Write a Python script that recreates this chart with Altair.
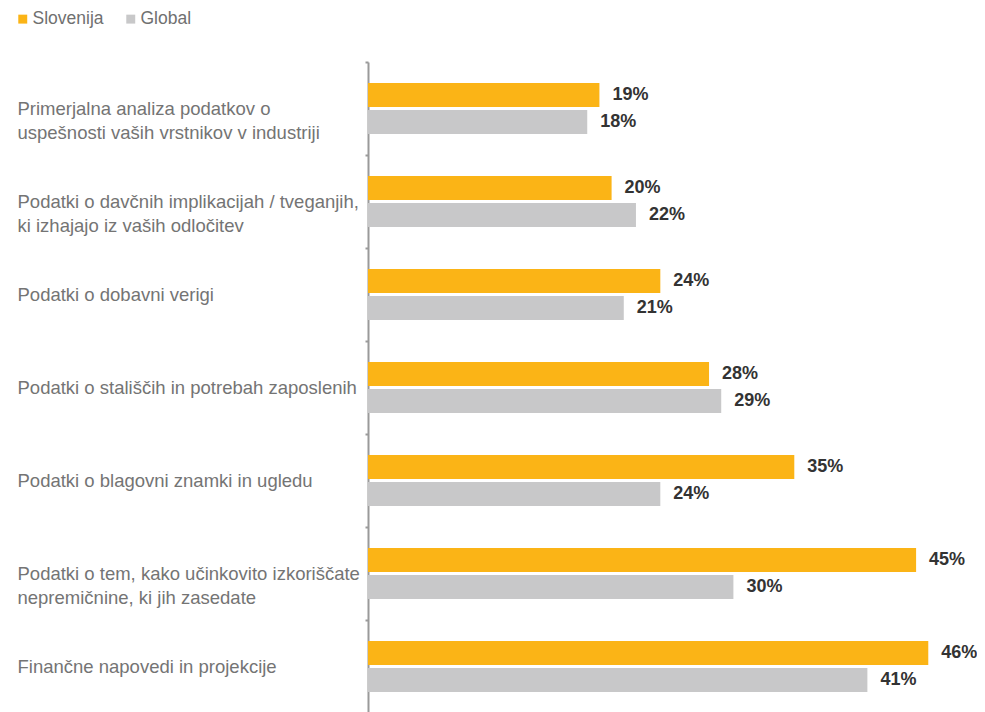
import altair as alt
import pandas as pd

categories = [
    "Primerjalna analiza podatkov o|uspešnosti vaših vrstnikov v industriji",
    "Podatki o davčnih implikacijah / tveganjih,|ki izhajajo iz vaših odločitev",
    "Podatki o dobavni verigi",
    "Podatki o stališčih in potrebah zaposlenih",
    "Podatki o blagovni znamki in ugledu",
    "Podatki o tem, kako učinkovito izkoriščate|nepremičnine, ki jih zasedate",
    "Finančne napovedi in projekcije",
]
series_names = ["Slovenija", "Global"]
slovenija = [19, 20, 24, 28, 35, 45, 46]
global_vals = [18, 22, 21, 29, 24, 30, 41]
colors = ["#FBB416", "#C8C8C9"]

rows = []
for c, s, g in zip(categories, slovenija, global_vals):
    rows.append({"cat": c, "series": "Slovenija", "value": s})
    rows.append({"cat": c, "series": "Global", "value": g})
df = pd.DataFrame(rows)

FONT = "Liberation Sans"

y_enc = alt.Y(
    "cat:N",
    sort=categories,
    scale=alt.Scale(paddingInner=0, paddingOuter=0),
    axis=alt.Axis(
        title=None,
        labelExpr="split(datum.label, '|')",
        labelAlign="left",
        labelBaseline="middle",
        labelPadding=348,
        labelFontSize=18.5,
        labelFont=FONT,
        labelColor="#747474",
        labelLineHeight=24,
        labelLimit=400,
        tickBand="extent",
        tickSize=3,
        tickColor="#9a9a9a",
        tickWidth=2,
        domainColor="#9a9a9a",
        domainWidth=2,
        grid=False,
    ),
)
yoff = alt.YOffset(
    "series:N",
    sort=series_names,
    scale=alt.Scale(domain=series_names, paddingInner=0.111, paddingOuter=0.778),
)

base = alt.Chart(df).encode(y=y_enc, yOffset=yoff)

xscale = alt.Scale(domain=[0, 50], nice=False)

bars = base.mark_bar().encode(
    x=alt.X("value:Q", scale=xscale, axis=None),
    color=alt.Color(
        "series:N",
        scale=alt.Scale(domain=series_names, range=colors),
        legend=alt.Legend(
            orient="none",
            legendX=-354,
            legendY=-52,
            direction="horizontal",
            title=None,
            symbolType="square",
            symbolSize=80,
            symbolStrokeWidth=0,
            labelFontSize=17.5,
            labelFont=FONT,
            labelColor="#707070",
            labelOffset=1,
            columnPadding=18,
        ),
    ),
)

text = base.mark_text(
    align="left", baseline="middle", dx=13, fontSize=18, fontWeight="bold",
    font=FONT, color="#333333"
).transform_calculate(
    label="datum.value + '%'"
).encode(
    x=alt.X("value:Q", scale=xscale, axis=None),
    text="label:N",
)

chart = alt.layer(bars, text).properties(
    width=609,
    height=651,
    padding={"left": 360, "top": 54, "right": 0, "bottom": 0},
    autosize=alt.AutoSizeParams(type="none"),
).configure_view(stroke=None)

chart.save("out.html", embed_options={"renderer": "svg", "actions": False})
